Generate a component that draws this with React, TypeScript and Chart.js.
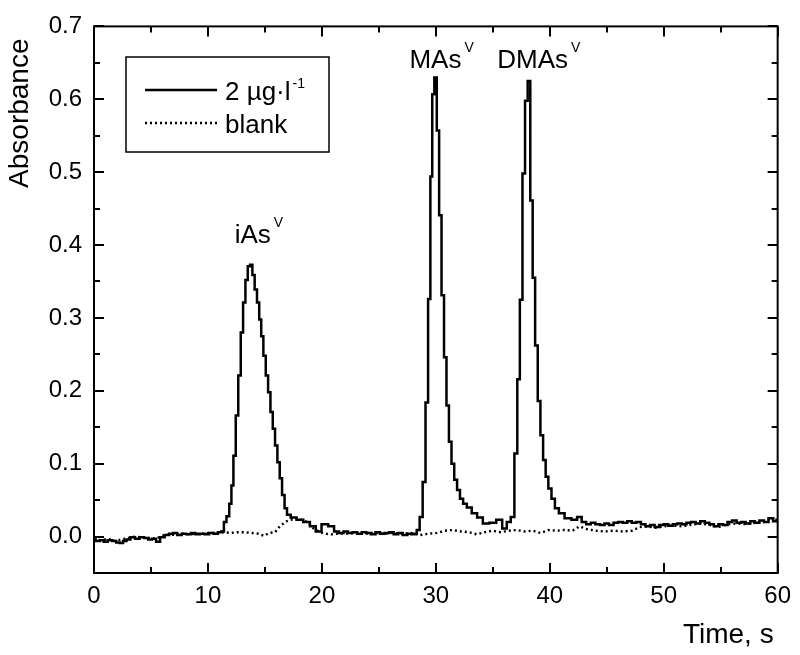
import { useEffect, useRef } from "react";
import { Chart, registerables } from "chart.js";

Chart.register(...registerables);

// ---- data (time in s, absorbance) ----
const sampleTime = [
  0, 0.3, 0.7, 1.0, 1.4, 1.8, 2.1, 2.4, 2.7, 3.0, 3.4, 3.8, 4.2, 4.6, 4.9, 5.3, 5.6, 6.0, 6.4, 6.8,
  7.1, 7.5, 7.9, 8.3, 8.7, 9.1, 9.5, 9.9, 10.3, 10.7, 11.05, 11.3, 11.5, 11.75, 11.99, 12.13, 12.34,
  12.54, 12.78, 12.98, 13.19, 13.39, 13.6, 13.8, 14.0, 14.2, 14.41, 14.59, 14.76, 14.97, 15.18, 15.38,
  15.59, 15.79, 15.99, 16.2, 16.4, 16.61, 16.84, 17.04, 17.48, 18.07, 18.66, 19.24, 19.68, 20.26,
  20.85, 21.29, 21.7, 22.1, 22.5, 22.9, 23.3, 23.7, 24.1, 24.5, 24.9, 25.3, 25.7, 26.1, 26.5, 26.9,
  27.3, 27.7, 28.0, 28.2, 28.45, 28.71, 28.98, 29.21, 29.43, 29.61, 29.76, 29.98, 30.19, 30.39, 30.61,
  30.83, 31.04, 31.26, 31.49, 31.74, 31.99, 32.25, 32.54, 32.9, 33.4, 33.85, 34.4, 35.0, 35.6, 36.05,
  36.4, 36.75, 37.04, 37.26, 37.49, 37.72, 37.94, 38.18, 38.4, 38.6, 38.83, 39.06, 39.3, 39.53, 39.75,
  40.0, 40.3, 40.6, 41.0, 41.6, 42.2, 42.6, 43.0, 43.4, 43.8, 44.2, 44.6, 45.0, 45.4, 45.8, 46.2, 46.6,
  47.0, 47.4, 47.8, 48.2, 48.6, 49.0, 49.4, 49.8, 50.2, 50.6, 51.0, 51.4, 51.8, 52.2, 52.6, 53.0, 53.4,
  53.8, 54.2, 54.6, 55.0, 55.4, 55.8, 56.2, 56.6, 57.0, 57.4, 57.8, 58.2, 58.6, 59.0, 59.4, 59.8, 60.0,
];
const sampleAbs = [
  -0.004, -0.006, -0.005, -0.007, -0.005, -0.006, -0.008, -0.009, -0.006, -0.004, -0.001, -0.003,
  -0.001, -0.002, -0.004, -0.003, -0.007, -0.001, 0.002, 0.004, 0.005, 0.002, 0.004, 0.003, 0.005,
  0.003, 0.004, 0.003, 0.005, 0.004, 0.006, 0.007, 0.02, 0.028, 0.045, 0.07, 0.111, 0.166, 0.221, 0.28,
  0.321, 0.352, 0.371, 0.373, 0.359, 0.339, 0.321, 0.298, 0.275, 0.248, 0.221, 0.198, 0.171, 0.148,
  0.125, 0.102, 0.08, 0.057, 0.039, 0.03, 0.026, 0.023, 0.02, 0.014, 0.007, 0.017, 0.014, 0.007, 0.005,
  0.007, 0.005, 0.006, 0.004, 0.006, 0.005, 0.003, 0.006, 0.004, 0.005, 0.006, 0.003, 0.005, 0.002,
  0.004, 0.003, 0.004, 0.009, 0.027, 0.075, 0.184, 0.326, 0.494, 0.607, 0.63, 0.557, 0.441, 0.331,
  0.246, 0.18, 0.13, 0.1, 0.078, 0.064, 0.052, 0.045, 0.04, 0.032, 0.026, 0.018, 0.019, 0.023, 0.011,
  0.02, 0.027, 0.114, 0.216, 0.325, 0.498, 0.598, 0.625, 0.461, 0.355, 0.262, 0.186, 0.139, 0.105,
  0.082, 0.066, 0.052, 0.039, 0.032, 0.025, 0.023, 0.027, 0.02, 0.017, 0.019, 0.017, 0.016, 0.018,
  0.016, 0.019, 0.02, 0.019, 0.021, 0.019, 0.02, 0.017, 0.014, 0.016, 0.013, 0.016, 0.017, 0.015,
  0.017, 0.018, 0.017, 0.019, 0.02, 0.018, 0.021, 0.019, 0.017, 0.014, 0.017, 0.016, 0.02, 0.022,
  0.019, 0.02, 0.018, 0.021, 0.019, 0.022, 0.02, 0.025, 0.021, 0.023,
];
const blankTime = [
  0, 0.6, 1.2, 1.8, 2.4, 3.0, 3.6, 4.2, 4.8, 5.4, 6.0, 6.6, 7.2, 7.8, 8.4, 9.0, 9.6, 10.2, 10.8, 11.4,
  12.0, 12.6, 13.2, 13.8, 14.4, 14.9, 15.4, 15.9, 16.3, 16.9, 17.5, 17.9, 18.7, 19.2, 19.7, 20.2, 20.8,
  21.5, 22.2, 23.0, 23.8, 24.6, 25.4, 26.2, 27.0, 27.8, 28.6, 29.4, 30.1, 30.8, 31.5, 32.2, 32.9, 33.6,
  34.3, 35.0, 35.7, 36.4, 37.1, 37.8, 38.5, 39.2, 39.9, 40.6, 41.3, 42.0, 42.6, 43.3, 44.0, 44.8, 45.6,
  46.4, 47.2, 47.9, 48.6, 49.3, 50.0, 50.8, 51.6, 52.4, 53.2, 54.0, 54.8, 55.6, 56.4, 57.2, 58.0, 58.8,
  59.4, 60.0,
];
const blankAbs = [
  -0.004, -0.005, -0.003, -0.006, -0.004, -0.002, 0.0, -0.001, -0.002, -0.003, 0.001, 0.003, 0.002,
  0.004, 0.003, 0.004, 0.004, 0.005, 0.005, 0.006, 0.005, 0.006, 0.006, 0.005, 0.004, 0.001, 0.005,
  0.006, 0.014, 0.021, 0.024, 0.025, 0.02, 0.012, 0.007, 0.004, 0.003, 0.004, 0.004, 0.005, 0.004,
  0.005, 0.004, 0.005, 0.004, 0.005, 0.002, 0.004, 0.005, 0.008, 0.009, 0.007, 0.006, 0.003, 0.006,
  0.008, 0.006, 0.008, 0.009, 0.007, 0.008, 0.005, 0.009, 0.008, 0.009, 0.008, 0.014, 0.01, 0.008,
  0.007, 0.008, 0.007, 0.008, 0.013, 0.014, 0.012, 0.014, 0.015, 0.014, 0.016, 0.018, 0.016, 0.013,
  0.017, 0.018, 0.017, 0.019, 0.02, 0.025, 0.024,
];

const xTickValues = [0, 10, 20, 30, 40, 50, 60];
const xMinorValues = [5, 15, 25, 35, 45, 55];
const yTickValues = [0, 0.1, 0.2, 0.3, 0.4, 0.5, 0.6, 0.7];
const yMinorValues = [0.05, 0.15, 0.25, 0.35, 0.45, 0.55, 0.65];

const seriesNames = ["2 µg·l", "blank"];
const seriesNameSup = ["-1", ""];

const peakNames = ["iAs", "MAs", "DMAs"];
const peakSup = "V";
const peakLabelTime = [12.35, 27.68, 35.39];
const peakLabelAbs = [0.4025, 0.6435, 0.6435];

const xTitle = "Time, s";
const yTitle = "Absorbance";

const FONT = "'Liberation Sans', Arial, Helvetica, sans-serif";

function supText(
  ctx: CanvasRenderingContext2D,
  main: string,
  sup: string,
  x: number,
  y: number,
  size: number,
  supSize: number,
  raise: number,
  gap: number
) {
  ctx.font = `${size}px ${FONT}`;
  ctx.textAlign = "left";
  ctx.textBaseline = "alphabetic";
  ctx.fillText(main, x, y);
  if (sup) {
    const w = ctx.measureText(main).width;
    ctx.font = `${supSize}px ${FONT}`;
    ctx.fillText(sup, x + w + gap, y - raise);
  }
}

const decorPlugin = {
  id: "decor",
  afterDatasetsDraw(chart: any) {
    const ctx: CanvasRenderingContext2D = chart.ctx;
    const a = chart.chartArea;
    const xs = chart.scales.x;
    const ys = chart.scales.y;
    ctx.save();
    ctx.strokeStyle = "#000";
    ctx.fillStyle = "#000";
    ctx.lineWidth = 2;
    ctx.setLineDash([]);
    ctx.strokeRect(a.left, a.top, a.right - a.left, a.bottom - a.top);

    const seg = (x1: number, y1: number, x2: number, y2: number) => {
      ctx.beginPath();
      ctx.moveTo(x1, y1);
      ctx.lineTo(x2, y2);
      ctx.stroke();
    };
    const MAJ = 10;
    const MIN = 6;
    xTickValues.forEach((v) => {
      const p = Math.round(xs.getPixelForValue(v));
      seg(p, a.bottom, p, a.bottom - MAJ);
      seg(p, a.top, p, a.top + MAJ);
    });
    xMinorValues.forEach((v) => {
      const p = Math.round(xs.getPixelForValue(v));
      seg(p, a.bottom, p, a.bottom - MIN);
      seg(p, a.top, p, a.top + MIN);
    });
    yTickValues.forEach((v) => {
      const p = Math.round(ys.getPixelForValue(v));
      seg(a.left, p, a.left + MAJ, p);
      seg(a.right, p, a.right - MAJ, p);
    });
    yMinorValues.forEach((v) => {
      const p = Math.round(ys.getPixelForValue(v));
      seg(a.left, p, a.left + MIN, p);
      seg(a.right, p, a.right - MIN, p);
    });

    // axis titles
    ctx.font = `28px ${FONT}`;
    ctx.textAlign = "right";
    ctx.textBaseline = "alphabetic";
    ctx.fillText(xTitle, a.right - 4, 643);
    ctx.save();
    ctx.translate(28, (a.top + 190) / 2 + 5);
    ctx.rotate(-Math.PI / 2);
    ctx.textAlign = "center";
    ctx.fillText(yTitle, 0, 0);
    ctx.restore();

    // peak labels
    peakNames.forEach((name, i) => {
      const px = xs.getPixelForValue(peakLabelTime[i]);
      const py = ys.getPixelForValue(peakLabelAbs[i]);
      supText(ctx, name, peakSup, px, py, 26, 14, 16, 3);
    });

    // legend
    const bx = 126, by = 57, bw = 203, bh = 95;
    ctx.lineWidth = 1.5;
    ctx.strokeRect(bx, by, bw, bh);
    const rowsY = [90, 123];
    seriesNames.forEach((name, i) => {
      ctx.lineWidth = i === 0 ? 2.4 : 2.4;
      ctx.setLineDash(i === 0 ? [] : [2, 3]);
      seg(bx + 19, rowsY[i], bx + 91, rowsY[i]);
      ctx.setLineDash([]);
      supText(ctx, name, seriesNameSup[i], bx + 99, rowsY[i] + 9.5, 26, 14, 12, 2);
    });
    ctx.restore();
  },
};

export default function App() {
  const ref = useRef<HTMLCanvasElement | null>(null);
  useEffect(() => {
    document.body.style.margin = "0";
    const canvas = ref.current;
    if (!canvas) return;
    const chart = new Chart(canvas, {
      type: "line",
      data: {
        datasets: [
          {
            label: seriesNames[0],
            data: sampleTime.map((t, i) => ({ x: t, y: sampleAbs[i] })),
            borderColor: "#000",
            borderWidth: 2.5,
            pointRadius: 0,
            stepped: "middle",
            fill: false,
          },
          {
            label: seriesNames[1],
            data: blankTime.map((t, i) => ({ x: t, y: blankAbs[i] })),
            borderColor: "#000",
            borderWidth: 2.4,
            borderDash: [2, 3],
            pointRadius: 0,
            fill: false,
          },
        ],
      },
      options: {
        responsive: false,
        animation: false,
        devicePixelRatio: 1,
        events: [],
        layout: { padding: { top: 22, right: 21, left: 0, bottom: 0 } },
        plugins: { legend: { display: false }, tooltip: { enabled: false } },
        scales: {
          x: {
            type: "linear",
            min: 0,
            max: 60,
            grid: { display: false, drawTicks: false },
            border: { display: false },
            afterBuildTicks: (s: any) => {
              s.ticks = xTickValues.map((v) => ({ value: v }));
            },
            afterFit: (s: any) => {
              s.height = 82;
            },
            ticks: {
              color: "#000",
              font: { size: 24, family: FONT },
              padding: 9,
              maxRotation: 0,
              callback: (v: any) => String(v),
            },
          },
          y: {
            type: "linear",
            min: -0.05,
            max: 0.7,
            grid: { display: false, drawTicks: false },
            border: { display: false },
            afterBuildTicks: (s: any) => {
              s.ticks = yTickValues.map((v) => ({ value: v }));
            },
            afterFit: (s: any) => {
              s.width = 94;
            },
            ticks: {
              color: "#000",
              font: { size: 24, family: FONT },
              padding: 12,
              callback: (v: any) => Number(v).toFixed(1),
            },
          },
        },
      },
      plugins: [decorPlugin],
    } as any);
    return () => chart.destroy();
  }, []);
  return <canvas ref={ref} width={800} height={655} style={{ display: "block" }} />;
}
